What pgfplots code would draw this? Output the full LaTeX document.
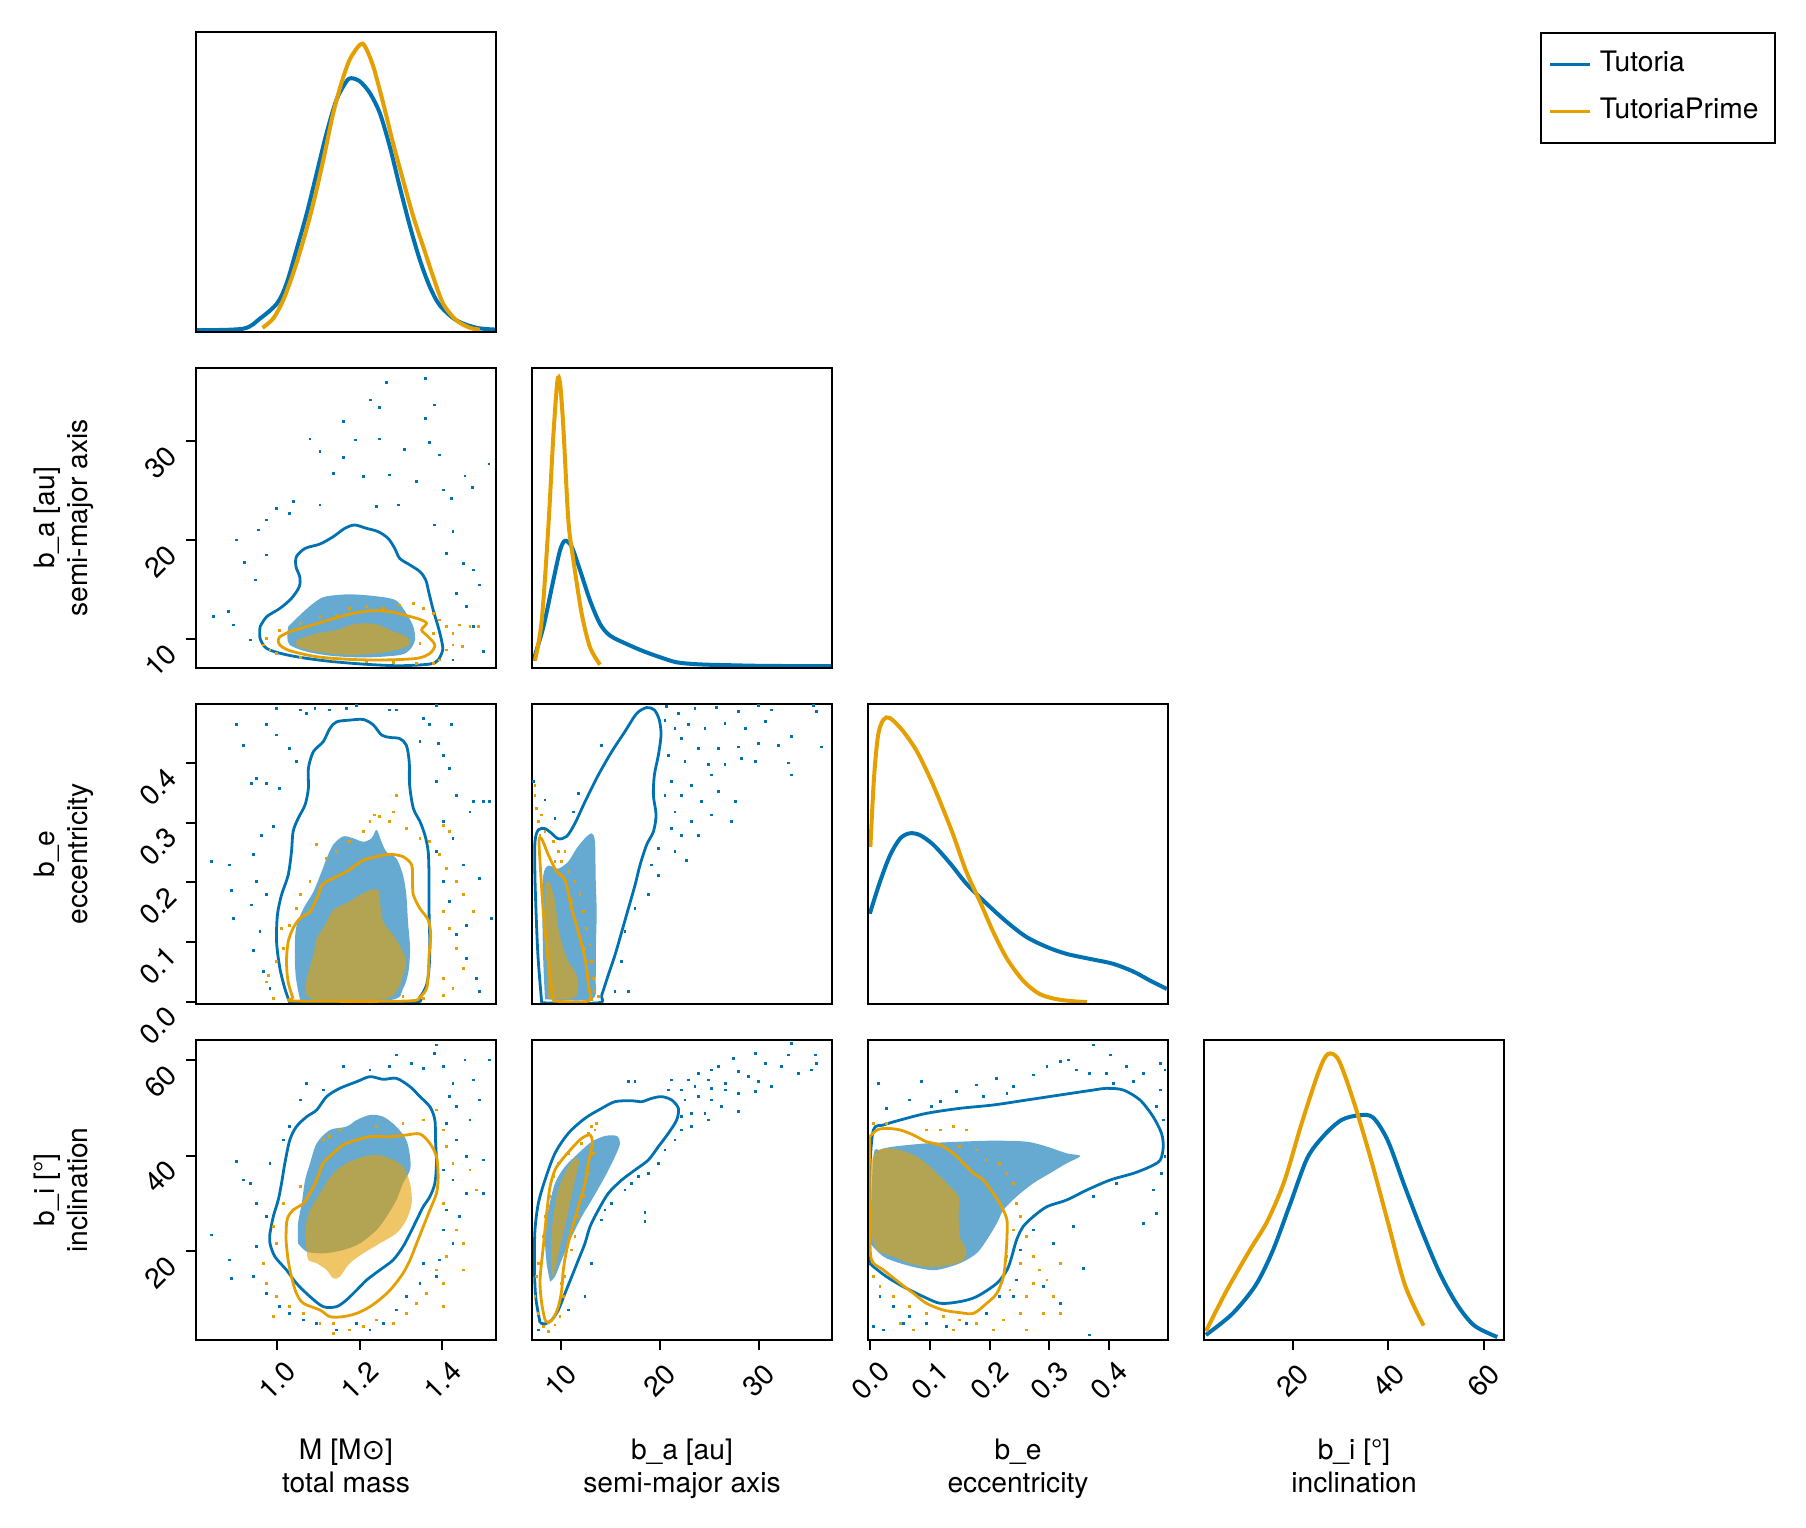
\documentclass[border=0pt]{standalone}
\usepackage{fontspec}
\setmainfont{TeX Gyre Heros}
\newfontfamily\symfont{DejaVu Sans}
\usepackage{pgfplots}
\pgfplotsset{compat=1.18}
\definecolor{tblue}{RGB}{0,114,178}
\definecolor{torange}{RGB}{230,159,0}
\newcommand\lbl{\fontsize{7.05}{8.3}\selectfont}
\pgfplotsset{
  corner/.style={scale only axis, width=75pt, height=75pt, anchor=north west, axis on top,
    xtick=\empty, ytick=\empty, tick pos=left, tick align=outside, major tick length=2.5pt,
    every tick/.style={black, line width=0.5pt}, axis line style={line width=0.5pt},
    tick label style={font=\lbl}, label style={font=\lbl},
    xticklabel style={rotate=45, anchor=center}, yticklabel style={rotate=45, anchor=east},
    xticklabel shift=7.6pt, yticklabel shift=1pt,
    xlabel style={at={(axis description cs:0.5,-0.43)}, anchor=center, align=center},
    ylabel style={at={(axis description cs:-0.44,0.5)}, anchor=center, align=center}},
  dens/.style={line width=1pt, smooth},
  cl/.style={line width=0.7pt, smooth},
  cf/.style={draw=none, smooth, fill opacity=0.6},
  sc/.style={only marks, mark=square*, mark size=0.16pt, mark options={draw=none}},
  colM/.style={xmin=0.804, xmax=1.530},
  colA/.style={xmin=7.1, xmax=37.4},
  colE/.style={xmin=-0.004, xmax=0.499},
  colI/.style={xmin=1.5, xmax=64.2},
  rowA/.style={ymin=7.1, ymax=37.4},
  rowE/.style={ymin=-0.004, ymax=0.499},
  rowI/.style={ymin=1.5, ymax=64.2},
}
\begin{document}
\begin{tikzpicture}
\path[use as bounding box] (0,0) rectangle (451.5pt,-382pt);
% ---------------- row 1 col 1 : M density
\begin{axis}[corner, at={(49pt,-8pt)}, colM, ymin=0, ymax=1,
  legend style={at={(4.48,1)}, anchor=north west, draw=black, line width=0.5pt, font=\lbl,
    inner xsep=2pt, inner ysep=2.6pt, row sep=1pt, cells={anchor=west},
    /tikz/every even column/.append style={column sep=2pt}},
  legend image code/.code={\draw[#1, line width=0.75pt] (0pt,0pt) -- (10pt,0pt);}]
\addplot[tblue, dens] coordinates {(0.804,0.006)(0.918,0.011)(0.959,0.045)(1.000,0.095)(1.023,0.161)(1.047,0.273)(1.072,0.395)(1.096,0.529)(1.120,0.663)(1.144,0.774)(1.168,0.835)(1.180,0.846)(1.201,0.835)(1.225,0.796)(1.249,0.729)(1.273,0.618)(1.297,0.484)(1.322,0.351)(1.346,0.239)(1.370,0.150)(1.394,0.089)(1.434,0.039)(1.483,0.014)(1.530,0.008)};
\addplot[torange, dens] coordinates {(0.965,0.014)(0.991,0.045)(1.015,0.106)(1.039,0.195)(1.064,0.306)(1.088,0.429)(1.112,0.573)(1.136,0.729)(1.156,0.830)(1.176,0.908)(1.201,0.958)(1.213,0.952)(1.233,0.885)(1.257,0.763)(1.281,0.629)(1.305,0.507)(1.330,0.384)(1.354,0.284)(1.378,0.184)(1.402,0.095)(1.434,0.039)(1.467,0.014)(1.491,0.008)};
\legend{Tutoria,TutoriaPrime}
\end{axis}
% ---------------- row 2 col 1 : M vs a
\begin{axis}[corner, at={(49pt,-92pt)}, colM, rowA, ytick={10,20,30}, yticklabels={10,20,30},
  ylabel={\strut b\_a [au]\\\strut semi-major axis}]
\addplot[sc, tblue] coordinates {(1.360,36.36)(1.265,35.92)(1.226,34.17)(1.249,33.43)(1.359,32.32)(1.382,33.66)(1.160,31.98)(1.191,30.13)(1.080,30.23)(1.249,30.23)(1.370,29.86)(1.309,29.18)(1.104,28.95)(1.160,28.34)(1.394,28.61)(1.513,27.70)(1.455,26.49)(1.473,25.35)(1.136,26.76)(1.209,26.42)(1.273,26.59)(1.338,25.92)(1.402,25.08)(1.039,23.90)(1.104,23.56)(1.241,23.39)(1.293,23.56)(1.422,24.24)(0.999,23.22)(1.031,22.72)(0.975,22.05)(1.382,21.54)(1.426,20.87)(0.955,21.04)(0.902,20.03)(0.922,17.77)(0.975,18.51)(1.410,18.68)(1.451,17.67)(1.475,17.00)(1.491,15.48)(0.947,15.99)(1.434,14.64)(0.882,12.79)(0.846,12.28)(0.894,11.44)(1.475,11.27)(1.499,8.75)(0.935,9.93)(1.426,7.91)(1.459,13.29)};
\addplot[cf, fill=tblue] coordinates {(1.027,11.27)(1.060,12.62)(1.088,13.63)(1.116,14.30)(1.177,14.54)(1.249,14.30)(1.289,13.90)(1.313,12.62)(1.330,11.27)(1.334,9.93)(1.321,8.92)(1.297,8.41)(1.217,8.17)(1.136,8.31)(1.072,8.75)(1.031,9.42)(1.025,10.26)(1.027,11.27)};
\addplot[cl, tblue] coordinates {(0.959,11.27)(0.975,12.28)(1.007,13.12)(1.035,14.13)(1.054,15.31)(1.055,16.32)(1.046,17.33)(1.047,18.34)(1.068,19.18)(1.104,19.62)(1.136,20.36)(1.164,21.20)(1.188,21.54)(1.217,21.20)(1.245,20.87)(1.269,20.19)(1.285,19.18)(1.297,18.17)(1.322,17.50)(1.346,16.83)(1.360,15.99)(1.368,14.64)(1.378,12.96)(1.390,11.27)(1.398,9.93)(1.401,8.92)(1.390,7.91)(1.370,7.50)(1.297,7.33)(1.217,7.47)(1.136,7.74)(1.072,8.07)(1.015,8.51)(0.975,9.08)(0.959,10.09)(0.959,11.27)};
\addplot[sc, torange] coordinates {(0.967,9.42)(0.975,10.09)(0.983,8.92)(1.007,10.93)(1.056,11.61)(1.104,12.28)(1.144,12.45)(1.176,13.12)(1.217,13.29)(1.257,13.12)(1.297,13.46)(1.330,13.63)(1.354,13.12)(1.378,12.62)(1.394,11.95)(1.410,11.27)(1.426,10.60)(1.442,11.44)(1.467,11.27)(1.487,11.27)(1.410,8.92)(1.394,7.91)(1.378,7.57)(1.338,7.57)(1.281,7.64)(1.217,7.74)(1.136,7.91)(1.056,8.14)(0.999,8.58)(1.426,9.42)(1.450,9.25)(1.378,10.60)(1.346,9.59)};
\addplot[cf, fill=torange] coordinates {(1.047,9.93)(1.096,10.60)(1.144,10.94)(1.177,11.44)(1.201,11.61)(1.241,11.51)(1.273,10.94)(1.305,10.44)(1.321,9.93)(1.313,9.25)(1.257,8.65)(1.177,8.41)(1.096,8.75)(1.051,9.25)(1.047,9.93)};
\addplot[cl, torange] coordinates {(1.007,10.26)(1.031,10.77)(1.072,11.27)(1.112,11.78)(1.152,12.28)(1.193,12.69)(1.233,12.89)(1.273,12.79)(1.309,12.45)(1.346,12.01)(1.362,11.61)(1.350,10.94)(1.366,10.26)(1.382,9.42)(1.370,8.58)(1.338,8.07)(1.257,7.91)(1.176,7.97)(1.096,8.24)(1.031,8.85)(1.007,9.42)(1.003,9.93)(1.007,10.26)};
\end{axis}
% ---------------- row 2 col 2 : a density
\begin{axis}[corner, at={(133pt,-92pt)}, colA, ymin=0, ymax=1]
\addplot[tblue, dens] coordinates {(7.23,0.025)(8.24,0.136)(9.25,0.292)(9.93,0.392)(10.43,0.424)(11.11,0.404)(11.95,0.326)(12.96,0.225)(13.97,0.147)(14.98,0.108)(16.66,0.080)(18.35,0.056)(20.03,0.036)(21.71,0.019)(24.07,0.012)(27.44,0.009)(30.80,0.007)(37.37,0.006)};
\addplot[torange, dens] coordinates {(7.40,0.025)(8.08,0.158)(8.75,0.470)(9.25,0.771)(9.66,0.955)(9.93,0.950)(10.26,0.805)(10.77,0.493)(11.28,0.359)(12.12,0.181)(12.96,0.069)(13.97,0.011)};
\end{axis}
% ---------------- row 3 col 1 : M vs e
\begin{axis}[corner, at={(49pt,-176pt)}, colM, rowE, ytick={0,0.1,0.2,0.3,0.4}, yticklabels={0.0,0.1,0.2,0.3,0.4},
  ylabel={\strut b\_e\\\strut eccentricity}]
\addplot[sc, tblue] coordinates {(0.999,0.492)(1.056,0.489)(1.072,0.483)(1.092,0.492)(1.128,0.489)(1.168,0.492)(1.193,0.497)(1.273,0.489)(1.289,0.489)(1.386,0.497)(0.902,0.464)(0.918,0.430)(0.975,0.464)(0.999,0.447)(1.031,0.425)(1.047,0.402)(0.951,0.374)(0.939,0.366)(0.975,0.366)(1.007,0.358)(0.963,0.279)(0.991,0.293)(0.943,0.246)(0.842,0.235)(0.886,0.229)(0.890,0.187)(0.894,0.140)(0.939,0.162)(0.951,0.201)(0.975,0.179)(0.959,0.117)(0.943,0.086)(0.967,0.050)(0.983,0.022)(1.354,0.475)(1.370,0.464)(1.346,0.436)(1.390,0.433)(1.402,0.413)(1.418,0.391)(1.386,0.369)(1.434,0.346)(1.475,0.335)(1.499,0.335)(1.515,0.335)(1.467,0.318)(1.402,0.302)(1.426,0.274)(1.386,0.251)(1.451,0.229)(1.491,0.207)(1.402,0.201)(1.418,0.168)(1.459,0.128)(1.434,0.112)(1.459,0.072)(1.483,0.039)(1.491,0.017)(1.519,0.140)(1.422,0.464)};
\addplot[cf, fill=tblue] coordinates {(1.056,0.0026)(1.046,0.039)(1.043,0.078)(1.046,0.123)(1.064,0.156)(1.088,0.184)(1.108,0.218)(1.120,0.240)(1.136,0.263)(1.160,0.277)(1.184,0.274)(1.209,0.268)(1.229,0.274)(1.241,0.288)(1.253,0.268)(1.265,0.251)(1.289,0.240)(1.305,0.212)(1.313,0.179)(1.317,0.134)(1.322,0.089)(1.318,0.050)(1.305,0.022)(1.273,0.0026)(1.056,0.0026)};
\addplot[cl, tblue] coordinates {(1.031,-0.002)(1.019,0.022)(1.007,0.056)(0.999,0.100)(1.001,0.145)(1.011,0.179)(1.027,0.212)(1.035,0.251)(1.039,0.285)(1.051,0.307)(1.068,0.330)(1.076,0.358)(1.076,0.391)(1.088,0.419)(1.112,0.436)(1.128,0.458)(1.144,0.469)(1.176,0.472)(1.209,0.473)(1.233,0.464)(1.253,0.447)(1.273,0.443)(1.297,0.441)(1.313,0.430)(1.320,0.402)(1.321,0.363)(1.330,0.324)(1.346,0.302)(1.358,0.279)(1.366,0.251)(1.368,0.207)(1.368,0.151)(1.370,0.095)(1.368,0.056)(1.362,0.028)(1.346,0.008)(1.321,-0.002)(1.031,-0.002)};
\addplot[sc, torange] coordinates {(1.096,0.263)(1.120,0.240)(1.144,0.251)(1.176,0.268)(1.209,0.285)(1.225,0.302)(1.249,0.310)(1.281,0.318)(1.273,0.302)(1.313,0.291)(1.346,0.274)(1.370,0.268)(1.402,0.296)(1.418,0.285)(1.394,0.246)(1.410,0.223)(1.434,0.201)(1.451,0.179)(1.475,0.151)(1.402,0.151)(1.418,0.123)(1.434,0.089)(1.451,0.056)(1.402,0.039)(1.426,0.022)(1.402,0.011)(1.354,0.005)(1.305,0.008)(0.991,0.005)(0.975,0.033)(0.999,0.067)(1.015,0.089)(1.031,0.128)(1.047,0.156)(1.056,0.179)(1.080,0.201)(0.979,0.044)(1.011,0.123)(1.289,0.346)(1.237,0.313)};
\addplot[cf, fill=torange] coordinates {(1.068,0.017)(1.072,0.039)(1.088,0.078)(1.096,0.106)(1.112,0.123)(1.128,0.145)(1.140,0.156)(1.168,0.165)(1.201,0.179)(1.225,0.187)(1.245,0.187)(1.249,0.168)(1.257,0.134)(1.281,0.112)(1.301,0.089)(1.313,0.067)(1.305,0.045)(1.293,0.022)(1.257,0.004)(1.096,0.003)(1.068,0.017)};
\addplot[cl, torange] coordinates {(1.039,0.005)(1.027,0.033)(1.023,0.067)(1.027,0.100)(1.039,0.123)(1.056,0.140)(1.080,0.151)(1.100,0.179)(1.108,0.195)(1.128,0.204)(1.168,0.218)(1.209,0.237)(1.241,0.243)(1.273,0.247)(1.305,0.243)(1.326,0.229)(1.328,0.201)(1.330,0.179)(1.346,0.156)(1.366,0.137)(1.372,0.112)(1.368,0.078)(1.366,0.045)(1.362,0.022)(1.346,0.008)(1.313,0.001)(1.047,0.001)(1.039,0.005)};
\end{axis}
% ---------------- row 3 col 2 : a vs e
\begin{axis}[corner, at={(133pt,-176pt)}, colA, rowE]
\addplot[sc, tblue] coordinates {(20.70,0.495)(21.88,0.483)(23.56,0.492)(25.75,0.493)(27.94,0.486)(29.96,0.497)(31.31,0.489)(35.52,0.497)(35.85,0.486)(20.53,0.472)(21.54,0.458)(22.89,0.464)(24.57,0.458)(26.59,0.467)(28.62,0.458)(30.64,0.469)(33.33,0.444)(36.36,0.427)(31.98,0.430)(29.96,0.433)(27.94,0.427)(25.92,0.425)(23.90,0.425)(22.22,0.441)(20.87,0.413)(22.55,0.402)(24.91,0.397)(26.59,0.397)(28.28,0.408)(29.63,0.402)(32.99,0.400)(33.33,0.380)(25.25,0.380)(23.23,0.363)(21.21,0.369)(20.53,0.346)(22.22,0.346)(24.24,0.335)(25.92,0.352)(27.61,0.335)(27.27,0.302)(25.25,0.313)(23.23,0.302)(21.54,0.318)(21.21,0.291)(22.22,0.279)(23.90,0.279)(19.86,0.257)(21.54,0.251)(22.72,0.237)(19.19,0.229)(19.86,0.212)(18.85,0.179)(17.50,0.156)(16.49,0.117)(16.16,0.067)(15.48,0.017)(16.83,0.017)(14.14,0.430)(11.78,0.349)(11.28,0.318)(7.23,0.369)(8.41,0.338)(9.42,0.307)};
\addplot[cf, fill=tblue] coordinates {(8.41,0.004)(8.24,0.067)(8.14,0.151)(8.24,0.212)(8.75,0.228)(9.76,0.223)(10.77,0.235)(11.61,0.257)(12.45,0.274)(13.13,0.282)(13.46,0.268)(13.53,0.207)(13.63,0.151)(13.56,0.095)(13.53,0.039)(13.13,0.004)(8.41,0.004)};
\addplot[cl, tblue] coordinates {(8.08,-0.002)(7.74,0.067)(7.57,0.123)(7.40,0.207)(7.40,0.268)(7.74,0.288)(8.41,0.290)(9.09,0.282)(9.76,0.273)(10.60,0.277)(11.44,0.299)(12.45,0.335)(13.80,0.380)(15.15,0.419)(16.49,0.453)(17.67,0.483)(18.68,0.493)(19.46,0.489)(19.96,0.472)(20.13,0.447)(19.86,0.413)(19.46,0.380)(19.36,0.346)(19.63,0.313)(19.36,0.285)(18.68,0.263)(18.01,0.229)(17.50,0.195)(16.83,0.156)(16.16,0.117)(15.48,0.078)(14.81,0.045)(14.14,0.011)(13.80,-0.002)(8.08,-0.002)};
\addplot[sc, torange] coordinates {(7.40,0.346)(7.57,0.324)(7.74,0.302)(8.08,0.313)(8.41,0.285)(9.25,0.268)(9.76,0.251)(10.10,0.235)(10.77,0.218)(11.44,0.201)(11.95,0.179)(12.29,0.151)(12.62,0.123)(12.96,0.095)(13.13,0.067)(13.30,0.039)(13.46,0.017)(13.80,0.008)(13.13,0.003)(7.40,0.363)(7.91,0.279)(9.42,0.235)(11.11,0.168)(12.45,0.089)(10.43,0.251)};
\addplot[cf, fill=torange] coordinates {(8.75,0.005)(8.58,0.067)(8.41,0.156)(8.48,0.198)(8.92,0.198)(9.42,0.168)(9.76,0.123)(10.26,0.089)(10.77,0.067)(11.44,0.050)(11.78,0.033)(11.61,0.011)(10.77,0.004)(8.75,0.005)};
\addplot[cl, torange] coordinates {(9.25,0.001)(8.75,0.067)(8.24,0.151)(7.91,0.235)(7.81,0.271)(8.08,0.273)(8.75,0.246)(9.59,0.218)(10.43,0.204)(11.11,0.156)(11.78,0.117)(12.45,0.073)(12.79,0.028)(12.79,0.001)(9.25,0.001)};
\end{axis}
% ---------------- row 3 col 3 : e density
\begin{axis}[corner, at={(217pt,-176pt)}, colE, ymin=0, ymax=1]
\addplot[tblue, dens] coordinates {(-0.001,0.301)(0.016,0.407)(0.033,0.496)(0.050,0.552)(0.066,0.569)(0.083,0.563)(0.106,0.530)(0.134,0.468)(0.161,0.401)(0.195,0.334)(0.229,0.273)(0.262,0.223)(0.296,0.190)(0.329,0.167)(0.374,0.148)(0.407,0.134)(0.441,0.108)(0.469,0.078)(0.497,0.050)};
\addplot[torange, dens] coordinates {(0.000,0.524)(0.006,0.753)(0.013,0.897)(0.022,0.948)(0.033,0.953)(0.055,0.909)(0.078,0.842)(0.100,0.753)(0.117,0.674)(0.139,0.563)(0.161,0.440)(0.184,0.340)(0.206,0.240)(0.229,0.151)(0.256,0.078)(0.284,0.033)(0.318,0.014)(0.363,0.006)};
\end{axis}
% ---------------- row 4 col 1 : M vs i
\begin{axis}[corner, at={(49pt,-260pt)}, colM, rowI, ytick={20,40,60}, yticklabels={20,40,60},
  xtick={1.0,1.2,1.4}, xticklabels={1.0,1.2,1.4},
  ylabel={\strut b\_i [°]\\\strut inclination}, xlabel={\strut M [M\smash{\symfont ⊙}]\\\strut total mass}]
\addplot[sc, tblue] coordinates {(1.386,63.16)(1.382,61.41)(1.289,61.07)(1.326,59.32)(1.354,58.28)(1.402,58.63)(1.515,60.02)(1.455,60.02)(1.475,55.84)(1.426,55.14)(1.418,52.36)(1.434,50.27)(1.491,51.66)(1.467,47.48)(1.410,46.78)(1.434,43.30)(1.459,39.82)(1.499,39.12)(1.402,37.03)(1.426,34.94)(1.459,32.16)(1.499,32.16)(1.410,28.67)(1.442,27.28)(1.402,24.49)(1.426,21.71)(1.394,18.22)(1.354,17.53)(1.386,14.74)(1.346,13.35)(1.313,10.56)(1.289,7.77)(1.257,4.99)(1.225,3.59)(1.193,4.99)(1.144,3.59)(1.096,4.99)(1.064,5.68)(1.031,7.08)(1.007,8.47)(0.975,11.26)(0.943,14.74)(0.886,18.22)(0.842,23.45)(0.890,14.39)(0.935,34.25)(0.951,30.07)(0.975,27.28)(0.983,38.43)(1.015,43.30)(1.031,46.09)(1.056,51.66)(1.072,55.14)(1.160,58.63)(1.225,57.93)(1.273,58.63)(0.902,38.77)(0.918,34.94)(0.951,21.01)(1.112,53.75)};
\addplot[cf, fill=tblue] coordinates {(1.051,21.71)(1.051,25.89)(1.060,30.07)(1.068,34.94)(1.080,38.43)(1.096,42.60)(1.128,45.39)(1.168,46.09)(1.193,47.48)(1.225,48.53)(1.257,48.18)(1.289,46.09)(1.313,43.30)(1.322,39.82)(1.322,37.03)(1.305,34.25)(1.289,30.76)(1.265,27.28)(1.241,24.49)(1.201,21.71)(1.160,20.31)(1.112,19.62)(1.072,19.97)(1.051,21.71)};
\addplot[cl, tblue] coordinates {(0.983,23.80)(0.991,27.28)(1.003,30.76)(1.011,34.25)(1.019,38.43)(1.031,43.30)(1.047,46.09)(1.072,48.18)(1.096,49.57)(1.120,52.36)(1.152,54.10)(1.193,55.49)(1.225,56.54)(1.257,55.98)(1.289,56.19)(1.322,54.45)(1.346,52.36)(1.370,50.27)(1.382,47.48)(1.384,42.60)(1.386,38.43)(1.382,34.25)(1.370,31.46)(1.354,29.37)(1.338,26.58)(1.322,23.80)(1.305,21.01)(1.281,18.22)(1.249,16.13)(1.217,14.04)(1.193,11.95)(1.168,9.86)(1.144,8.47)(1.112,8.47)(1.080,10.56)(1.047,13.35)(1.023,16.13)(0.995,18.92)(0.983,21.71)(0.983,23.80)};
\addplot[sc, torange] coordinates {(1.402,45.39)(1.410,41.91)(1.426,38.43)(1.467,37.03)(1.483,32.85)(1.402,30.07)(1.434,24.49)(1.451,21.71)(1.410,18.92)(1.386,16.13)(1.402,13.35)(1.362,11.26)(1.338,9.17)(1.313,7.08)(1.281,4.99)(1.241,5.68)(1.209,4.29)(1.176,3.59)(1.136,4.99)(1.104,4.99)(1.064,7.08)(1.031,8.47)(0.999,10.56)(0.975,13.35)(0.967,17.53)(0.999,21.71)(0.991,25.19)(1.015,30.07)(1.056,33.55)(1.112,43.30)(1.128,44.00)(1.152,45.39)(1.241,46.09)(1.305,46.78)(1.354,47.48)(1.386,49.57)(1.136,2.90)(1.402,8.47)(1.451,16.13)(0.991,6.38)};
\addplot[cf, fill=torange] coordinates {(1.072,20.31)(1.068,24.49)(1.080,28.67)(1.104,32.16)(1.136,36.34)(1.168,38.43)(1.209,39.82)(1.241,40.17)(1.273,39.47)(1.305,37.73)(1.322,34.25)(1.326,30.07)(1.313,26.58)(1.289,23.80)(1.249,21.71)(1.209,19.62)(1.176,17.53)(1.152,14.74)(1.136,14.39)(1.120,16.13)(1.096,17.53)(1.076,18.22)(1.072,20.31)};
\addplot[cl, torange] coordinates {(1.023,25.89)(1.027,27.28)(1.039,28.67)(1.064,30.07)(1.080,32.16)(1.096,34.94)(1.112,38.43)(1.136,40.52)(1.160,42.26)(1.193,43.30)(1.225,44.00)(1.273,44.00)(1.313,44.35)(1.346,44.56)(1.370,42.60)(1.386,39.82)(1.390,35.64)(1.386,32.16)(1.370,28.67)(1.354,25.19)(1.338,21.71)(1.322,18.22)(1.305,15.44)(1.281,12.65)(1.257,10.56)(1.225,8.47)(1.193,7.08)(1.160,6.38)(1.128,6.38)(1.104,7.77)(1.064,9.17)(1.047,11.26)(1.035,14.74)(1.027,18.22)(1.022,22.40)(1.023,25.89)};
\end{axis}
% ---------------- row 4 col 2 : a vs i
\begin{axis}[corner, at={(133pt,-260pt)}, colA, rowI, xtick={10,20,30}, xticklabels={10,20,30},
  xlabel={\strut b\_a [au]\\\strut semi-major axis}]
\addplot[sc, tblue] coordinates {(33.33,63.50)(32.99,61.07)(35.69,61.07)(35.85,59.32)(29.63,61.41)(27.44,60.37)(30.64,59.32)(32.32,58.63)(35.35,57.93)(34.00,57.23)(25.92,58.63)(25.25,57.93)(23.90,57.23)(27.94,57.58)(28.95,56.54)(29.96,55.49)(31.31,54.45)(26.60,55.14)(24.91,55.84)(22.89,55.84)(21.21,55.84)(20.87,53.75)(22.22,53.75)(23.56,54.45)(25.25,54.10)(26.60,53.75)(27.94,53.05)(29.63,53.40)(23.90,52.36)(22.55,51.66)(25.25,51.66)(26.26,50.27)(24.57,48.87)(23.23,48.87)(22.22,48.18)(24.91,47.48)(27.94,49.22)(23.23,46.09)(22.22,45.39)(21.54,43.30)(20.53,41.21)(19.86,38.43)(18.85,36.34)(17.84,35.64)(17.17,34.25)(16.49,32.85)(15.15,30.07)(14.47,28.67)(14.14,26.58)(13.13,17.53)(18.51,28.18)(18.51,26.24)(16.83,55.49)(17.50,55.49)(12.45,10.56)(10.77,7.77)(7.74,3.59)(7.40,16.13)};
\addplot[cf, fill=tblue] coordinates {(8.92,13.70)(8.58,17.53)(8.41,23.10)(8.75,28.67)(9.42,34.25)(10.43,37.73)(11.78,40.52)(13.13,42.95)(14.47,44.14)(15.65,44.14)(15.99,42.60)(15.48,39.82)(14.47,35.64)(13.13,30.76)(12.12,27.28)(11.11,23.10)(10.10,18.22)(9.42,14.74)(8.92,13.70)};
\addplot[cl, tblue] coordinates {(7.91,5.13)(7.47,10.56)(7.34,17.53)(7.40,24.49)(7.74,30.07)(8.41,34.94)(9.42,40.52)(10.77,44.70)(12.45,47.83)(14.14,49.92)(15.48,51.31)(17.17,51.52)(18.18,51.31)(19.19,52.01)(20.20,52.36)(21.21,51.66)(21.88,49.92)(21.71,47.48)(20.87,44.70)(19.86,41.91)(18.85,39.12)(17.50,37.03)(16.16,34.94)(14.81,32.16)(13.80,28.67)(12.96,25.19)(12.45,21.71)(11.78,18.22)(11.11,14.74)(10.43,11.26)(9.76,7.77)(9.09,5.68)(8.41,4.85)(7.91,5.13)};
\addplot[sc, torange] coordinates {(13.13,46.09)(13.46,45.39)(13.63,46.78)(12.79,44.70)(12.12,42.60)(10.77,40.52)(9.76,38.43)(9.25,35.64)(8.92,31.46)(8.41,27.28)(8.24,23.10)(7.74,17.53)(7.57,14.74)(7.40,10.56)(7.74,7.08)(8.24,4.29)(8.75,3.25)(9.42,4.64)(9.93,6.38)(10.26,10.56)(10.10,13.35)(10.43,14.74)(11.11,20.31)(11.44,23.10)(11.78,27.28)(12.29,31.46)(12.79,36.34)(13.30,40.52)};
\addplot[cf, fill=torange] coordinates {(9.09,14.39)(9.02,21.01)(9.25,27.28)(9.76,32.85)(10.60,37.03)(11.44,39.47)(11.85,38.77)(11.44,34.94)(10.94,30.07)(10.43,25.19)(9.93,21.01)(9.42,16.13)(9.09,14.39)};
\addplot[cl, torange] coordinates {(8.41,5.68)(8.08,9.17)(7.91,14.04)(8.24,21.01)(8.58,27.98)(8.92,33.55)(9.42,37.03)(10.10,39.12)(11.11,41.56)(12.12,43.65)(12.96,44.35)(13.19,42.60)(12.79,38.43)(12.45,34.25)(11.78,29.37)(11.11,24.49)(10.60,20.31)(10.26,16.13)(10.10,11.95)(9.76,8.47)(9.25,6.03)(8.75,5.13)(8.41,5.68)};
\end{axis}
% ---------------- row 4 col 3 : e vs i
\begin{axis}[corner, at={(217pt,-260pt)}, colE, rowI, xtick={0,0.1,0.2,0.3,0.4}, xticklabels={0.0,0.1,0.2,0.3,0.4},
  xlabel={\strut b\_e\\\strut eccentricity}]
\addplot[sc, tblue] coordinates {(0.013,55.14)(0.027,49.92)(0.066,51.66)(0.086,55.49)(0.103,50.27)(0.145,53.40)(0.178,54.80)(0.212,56.19)(0.240,54.45)(0.273,56.89)(0.296,58.63)(0.318,59.67)(0.332,60.02)(0.346,57.93)(0.374,63.16)(0.402,61.07)(0.368,57.23)(0.396,57.23)(0.430,58.63)(0.458,57.23)(0.486,59.32)(0.494,57.93)(0.486,53.75)(0.441,55.49)(0.407,55.14)(0.480,50.27)(0.491,47.48)(0.494,39.82)(0.488,36.34)(0.474,32.85)(0.480,27.98)(0.458,25.89)(0.413,34.25)(0.374,31.46)(0.340,25.19)(0.357,16.48)(0.307,21.71)(0.273,24.49)(0.251,20.31)(0.245,14.04)(0.217,10.56)(0.195,7.08)(0.161,4.99)(0.128,4.29)(0.094,4.99)(0.066,6.38)(0.038,8.47)(0.016,10.56)(0.005,4.29)(0.022,3.59)(0.318,9.17)(0.290,12.65)(0.368,2.55)(0.240,10.56)(0.055,4.99)(0.117,51.31)(0.189,52.36)(0.229,53.05)};
\addplot[cf, fill=tblue] coordinates {(-0.001,21.71)(0.005,39.82)(0.016,41.21)(0.038,41.91)(0.094,42.60)(0.150,42.95)(0.206,43.16)(0.262,42.95)(0.296,41.91)(0.329,40.52)(0.352,39.96)(0.329,38.43)(0.301,36.34)(0.273,34.25)(0.245,31.46)(0.223,28.67)(0.212,25.89)(0.195,22.40)(0.178,19.62)(0.150,17.53)(0.111,16.13)(0.083,16.48)(0.050,17.53)(0.022,18.92)(-0.001,21.71)};
\addplot[cl, tblue] coordinates {(-0.001,17.53)(-0.002,24.49)(-0.001,37.03)(0.005,45.39)(0.022,46.44)(0.050,47.48)(0.094,48.87)(0.150,49.92)(0.206,50.62)(0.262,51.66)(0.318,52.71)(0.374,53.75)(0.396,54.10)(0.424,53.75)(0.452,51.66)(0.474,48.18)(0.488,44.70)(0.491,41.91)(0.486,39.12)(0.469,37.73)(0.441,36.34)(0.402,34.94)(0.363,32.85)(0.329,30.76)(0.296,29.37)(0.273,27.28)(0.256,25.19)(0.245,22.40)(0.237,18.92)(0.229,16.13)(0.212,13.35)(0.178,10.56)(0.150,9.52)(0.117,9.17)(0.089,10.56)(0.055,12.65)(0.027,14.74)(0.005,16.83)(-0.001,17.53)};
\addplot[sc, torange] coordinates {(0.005,46.78)(0.027,46.78)(0.094,45.39)(0.117,45.39)(0.139,46.09)(0.161,45.39)(0.150,41.91)(0.178,41.21)(0.195,39.12)(0.217,38.43)(0.229,36.34)(0.240,34.25)(0.245,30.07)(0.251,27.28)(0.240,24.49)(0.262,23.10)(0.273,18.92)(0.284,16.13)(0.251,17.53)(0.234,11.95)(0.262,10.56)(0.273,13.35)(0.296,14.04)(0.307,10.56)(0.318,7.08)(0.290,7.08)(0.251,7.08)(0.223,5.68)(0.206,3.59)(0.178,4.99)(0.150,5.68)(0.122,6.38)(0.094,7.08)(0.066,8.47)(0.038,10.56)(0.016,12.65)(0.005,14.74)(0.050,4.99)(0.318,17.53)(0.229,18.92)(0.072,3.59)(0.139,3.59)(0.262,3.59)};
\addplot[cf, fill=torange] coordinates {(0.0005,24.49)(0.0005,37.03)(0.008,40.52)(0.022,41.56)(0.050,41.21)(0.078,39.82)(0.100,37.73)(0.117,35.64)(0.134,33.55)(0.148,31.46)(0.148,27.28)(0.150,23.10)(0.161,20.31)(0.156,18.22)(0.134,17.18)(0.100,16.69)(0.066,17.53)(0.038,18.92)(0.011,20.31)(0.0005,24.49)};
\addplot[cl, torange] coordinates {(-0.001,44.00)(0.011,45.39)(0.027,45.74)(0.050,45.39)(0.072,44.35)(0.094,42.95)(0.117,42.26)(0.139,40.52)(0.156,38.43)(0.173,36.34)(0.189,34.94)(0.206,32.16)(0.220,29.37)(0.229,26.58)(0.229,23.10)(0.227,18.92)(0.223,14.74)(0.212,11.26)(0.195,9.17)(0.173,7.08)(0.150,7.22)(0.122,7.77)(0.094,9.17)(0.072,11.26)(0.050,13.35)(0.022,16.13)(0.002,18.22)(-0.001,24.49)(-0.002,34.94)(-0.001,44.00)};
\end{axis}
% ---------------- row 4 col 4 : i density
\begin{axis}[corner, at={(301pt,-260pt)}, colI, ymin=0, ymax=1, xtick={20,40,60}, xticklabels={20,40,60},
  xlabel={\strut b\_i [°]\\\strut inclination}]
\addplot[tblue, dens] coordinates {(1.9,0.017)(7.4,0.087)(12.3,0.183)(15.9,0.299)(19.5,0.453)(23.1,0.607)(26.7,0.684)(30.3,0.734)(33.9,0.749)(36.8,0.742)(39.9,0.665)(43.5,0.510)(47.2,0.357)(50.8,0.222)(54.4,0.118)(58.0,0.048)(62.8,0.010)};
\addplot[torange, dens] coordinates {(1.9,0.029)(6.2,0.164)(11.05,0.299)(14.7,0.395)(18.3,0.530)(21.9,0.722)(25.5,0.896)(27.4,0.953)(29.6,0.934)(32.7,0.799)(36.3,0.607)(39.9,0.395)(43.5,0.183)(47.4,0.048)};
\end{axis}
\end{tikzpicture}
\end{document}
